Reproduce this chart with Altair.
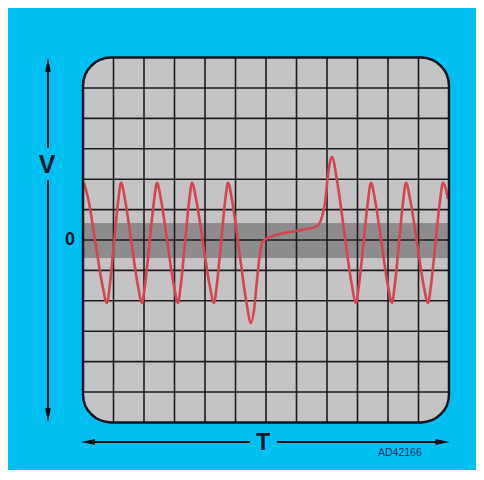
import altair as alt
import pandas as pd

# ---- data (x: screen divisions 0..12, y: divisions, 0 at centre line) ----
wave_x = [0.033, 0.184, 0.410, 0.636, 0.787, 0.879, 1.016, 1.154, 1.246,
          1.384, 1.590, 1.797, 1.934, 2.033, 2.180, 2.328, 2.426,
          2.564, 2.770, 2.977, 3.115, 3.207, 3.344, 3.482, 3.574,
          3.718, 3.934, 4.151, 4.295, 4.387, 4.525, 4.662, 4.754,
          4.905, 5.131, 5.357, 5.508, 5.607, 5.705, 5.803, 5.869,
          6.066, 6.295, 6.787, 7.279, 7.672, 7.869, 7.934, 8.033,
          8.098, 8.164, 8.321, 8.557, 8.793, 8.951, 9.049, 9.197,
          9.344, 9.443, 9.580, 9.787, 9.993, 10.131, 10.223, 10.361,
          10.498, 10.590, 10.734, 10.951, 11.167, 11.311, 11.410, 11.557,
          11.705, 11.803, 11.967]
wave_y = [1.88, 1.29, -0.10, -1.48, -2.07, -1.48, -0.10, 1.29, 1.88,
          1.29, -0.10, -1.48, -2.07, -1.48, -0.10, 1.29, 1.88,
          1.29, -0.10, -1.48, -2.07, -1.48, -0.10, 1.29, 1.88,
          1.29, -0.10, -1.48, -2.07, -1.48, -0.10, 1.29, 1.88,
          1.19, -0.43, -2.04, -2.73, -2.30, -1.32, -0.43, -0.10,
          0.07, 0.16, 0.26, 0.35, 0.46, 0.89, 1.22, 2.14,
          2.57, 2.73, 2.01, 0.33, -1.35, -2.07, -1.48, -0.10,
          1.29, 1.88, 1.29, -0.10, -1.48, -2.07, -1.48, -0.10,
          1.29, 1.88, 1.29, -0.10, -1.48, -2.07, -1.48, -0.10,
          1.29, 1.88, 1.35]

grid_cols = [1, 2, 3, 4, 5, 6, 7, 8, 9, 10, 11]
grid_rows = [-5, -4, -3, -2, -1, 0, 1, 2, 3, 4, 5]

screen_x = [0, 12]
screen_y = [-6, 6]
band_y = [-0.59, 0.56]

# arrow shafts (x, x2, y, y2)
shaft_x = [-1.148, -1.148, 0.295, 6.36]
shaft_x2 = [-1.148, -1.148, 5.475, 11.60]
shaft_y = [5.60, 1.97, -6.645, -6.645]
shaft_y2 = [3.03, -5.66, -6.645, -6.645]

# arrow heads
head_x = [-1.148, -1.148, 0.164, 11.787]
head_y = [5.77, -5.77, -6.645, -6.645]
head_shape = ["M0,-1L0.4,1L-0.4,1Z", "M0,1L0.4,-1L-0.4,-1Z",
              "M-1,0L1,-0.42L1,0.42Z", "M1,0L-1,-0.42L-1,0.42Z"]

labels = ["V", "0", "T"]
label_x = [-1.18, -0.426, 5.90]
label_y = [2.47, 0.0, -6.68]
label_size = [25, 18, 23]

code_label = ["AD42166"]
code_x = [10.39]
code_y = [-7.0]

# ---- scales ----
W, H = 468, 462
xs = alt.Scale(domain=[-75 / 30.5, (W - 75) / 30.5], nice=False, zero=False)
ys = alt.Scale(domain=[-(H - 232) / 30.4, 232 / 30.4], nice=False, zero=False)


def X(f):
    return alt.X(f, type="quantitative", scale=xs, axis=None)


def Y(f):
    return alt.Y(f, type="quantitative", scale=ys, axis=None)


scr = pd.DataFrame({"x": [screen_x[0]], "x2": [screen_x[1]],
                    "y": [screen_y[0]], "y2": [screen_y[1]]})
band = pd.DataFrame({"x": [screen_x[0]], "x2": [screen_x[1]],
                     "y": [band_y[0]], "y2": [band_y[1]]})
vgrid = pd.DataFrame({"x": grid_cols, "y": [screen_y[0]] * len(grid_cols),
                      "y2": [screen_y[1]] * len(grid_cols)})
hgrid = pd.DataFrame({"y": grid_rows, "x": [screen_x[0]] * len(grid_rows),
                      "x2": [screen_x[1]] * len(grid_rows)})
wave = pd.DataFrame({"x": wave_x, "y": wave_y, "i": list(range(len(wave_x)))})
shafts = pd.DataFrame({"x": shaft_x, "x2": shaft_x2, "y": shaft_y, "y2": shaft_y2})
heads = pd.DataFrame({"x": head_x, "y": head_y, "s": head_shape})
labs = pd.DataFrame({"t": labels, "x": label_x, "y": label_y, "size": label_size})
code = pd.DataFrame({"t": code_label, "x": code_x, "y": code_y})

screen_fill = alt.Chart(scr).mark_rect(
    fill="#C4C4C4", cornerRadius=28, strokeWidth=0
).encode(x=X("x"), x2="x2", y=Y("y"), y2="y2")

band_l = alt.Chart(band).mark_rect(fill="#8C8C8C", strokeWidth=0).encode(
    x=X("x"), x2="x2", y=Y("y"), y2="y2")

vgrid_l = alt.Chart(vgrid).mark_rule(color="#1c1c1c", strokeWidth=1.6).encode(
    x=X("x"), y=Y("y"), y2="y2")
hgrid_l = alt.Chart(hgrid).mark_rule(color="#1c1c1c", strokeWidth=1.6).encode(
    y=Y("y"), x=X("x"), x2="x2")

wave_l = alt.Chart(wave).mark_line(
    color="#D8434F", strokeWidth=2.6, interpolate="monotone"
).encode(x=X("x"), y=Y("y"), order="i:Q")

outline = alt.Chart(scr).mark_rect(
    fillOpacity=0, stroke="#0b1420", strokeWidth=2.5, cornerRadius=28
).encode(x=X("x"), x2="x2", y=Y("y"), y2="y2")

shaft_l = alt.Chart(shafts).mark_rule(color="#111111", strokeWidth=2).encode(
    x=X("x"), x2="x2", y=Y("y"), y2="y2")

head_l = alt.Chart(heads).mark_point(
    filled=True, size=200, color="#111111", opacity=1, strokeWidth=0
).encode(x=X("x"), y=Y("y"), shape=alt.Shape("s:N", scale=None))

lab_l = alt.Chart(labs).mark_text(
    font="Liberation Sans", fontWeight="bold", color="#0e1a2c",
    align="center", baseline="middle"
).encode(x=X("x"), y=Y("y"), text="t:N",
         size=alt.Size("size:Q", scale=None))

code_l = alt.Chart(code).mark_text(
    font="Liberation Sans", fontSize=10.5, color="#1b2d5a",
    align="center", baseline="middle"
).encode(x=X("x"), y=Y("y"), text="t:N")

chart = alt.layer(
    screen_fill, band_l, vgrid_l, hgrid_l, wave_l, outline,
    shaft_l, head_l, lab_l, code_l
).properties(
    width=W, height=H, padding=0,
    autosize=alt.AutoSizeParams(type="none"),
    background="#00BFF3"
).configure_view(stroke=None)

chart.save("out.html", embed_options={"renderer": "svg", "actions": False})
